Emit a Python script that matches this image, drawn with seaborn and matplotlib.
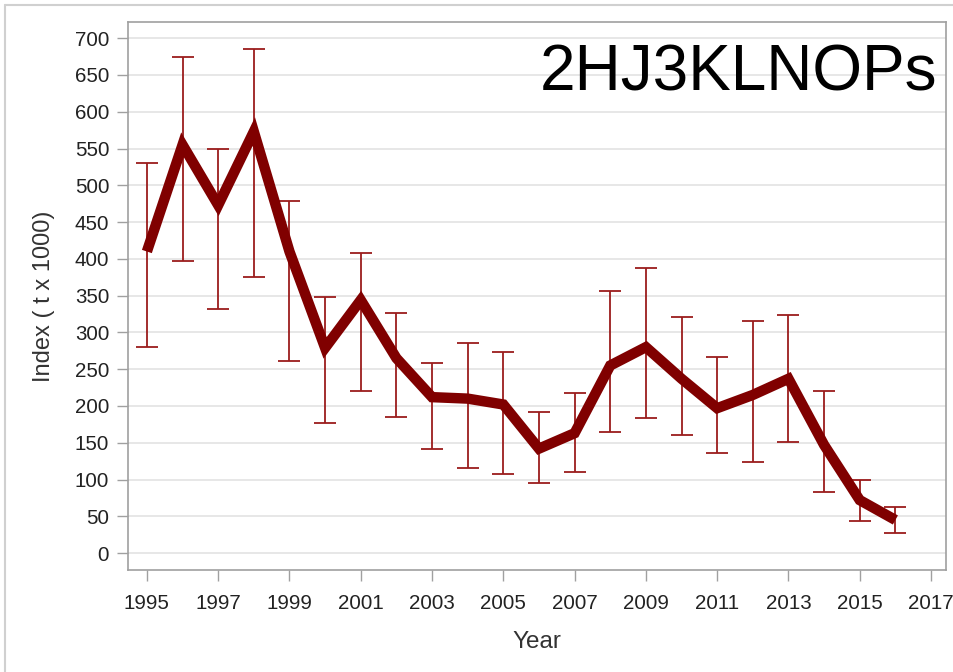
import matplotlib
matplotlib.use("Agg")
import matplotlib.pyplot as plt
import seaborn as sns
import pandas as pd
from matplotlib.lines import Line2D

years = [1995, 1996, 1997, 1998, 1999, 2000, 2001, 2002, 2003, 2004, 2005,
         2006, 2007, 2008, 2009, 2010, 2011, 2012, 2013, 2014, 2015, 2016]
index_vals = [410, 555, 473, 573, 410, 279, 344, 265, 212, 210, 202,
              142, 163, 255, 280, 237, 197, 215, 237, 147, 72, 45]
upper = [530, 675, 549, 685, 478, 348, 408, 326, 258, 286, 274,
         192, 217, 356, 388, 321, 266, 315, 323, 220, 99, 62]
lower = [280, 397, 332, 375, 261, 177, 221, 185, 141, 116, 108,
         95, 110, 165, 184, 160, 136, 124, 151, 83, 43, 27]
x_ticks = list(range(1995, 2018, 2))
y_ticks = list(range(0, 701, 50))
title_text = "2HJ3KLNOPs"

df = pd.DataFrame({"Year": years, "Index": index_vals, "lo": lower, "hi": upper})

sns.set_style("white")
plt.rcParams["font.family"] = ["Liberation Sans", "DejaVu Sans"]

fig = plt.figure(figsize=(9.54, 6.72), dpi=100)
ax = fig.add_axes([128 / 954, (672 - 570) / 672, (946 - 128) / 954, (570 - 22) / 672])

err_color = "#9b1c1c"
line_color = "#800000"

ax.errorbar(df["Year"], df["Index"],
            yerr=[df["Index"] - df["lo"], df["hi"] - df["Index"]],
            fmt="none", ecolor=err_color, elinewidth=1.3, capsize=7.8,
            capthick=1.3, zorder=2)
sns.lineplot(data=df, x="Year", y="Index", ax=ax, color=line_color,
             linewidth=7.5, zorder=3, solid_joinstyle="miter",
             solid_capstyle="butt")

ax.set_xlim(1994.47, 2017.42)
ax.set_ylim(-23, 722)
ax.set_xticks(x_ticks)
ax.set_yticks(y_ticks)
ax.yaxis.grid(True, color="#e3e3e3", linewidth=1.2)
ax.set_axisbelow(True)

for s in ax.spines.values():
    s.set_color("#a0a0a0")
    s.set_linewidth(1.2)

ax.tick_params(axis="both", which="major", direction="out", length=8,
               width=1, color="#a0a0a0", labelsize=14.8, labelcolor="#222222",
               left=True, bottom=True)
ax.tick_params(axis="x", pad=9.5)
ax.tick_params(axis="y", pad=5.5)

ax.set_xlabel("Year", fontsize=17.5, color="#333333", labelpad=13)
ax.set_ylabel("Index ( t x 1000)", fontsize=17, color="#333333", labelpad=14.5)

ax.text(0.9895, 0.96, title_text, transform=ax.transAxes, ha="right", va="top",
        fontsize=46, color="black")

# light outer frame of the original image
fig.add_artist(Line2D([5 / 954, 1], [1 - 5 / 672, 1 - 5 / 672],
                      transform=fig.transFigure, color="#d0d0d0", linewidth=1.5))
fig.add_artist(Line2D([5 / 954, 5 / 954], [0, 1 - 5 / 672],
                      transform=fig.transFigure, color="#d0d0d0", linewidth=1.5))

fig.savefig("out.png", dpi=100)
